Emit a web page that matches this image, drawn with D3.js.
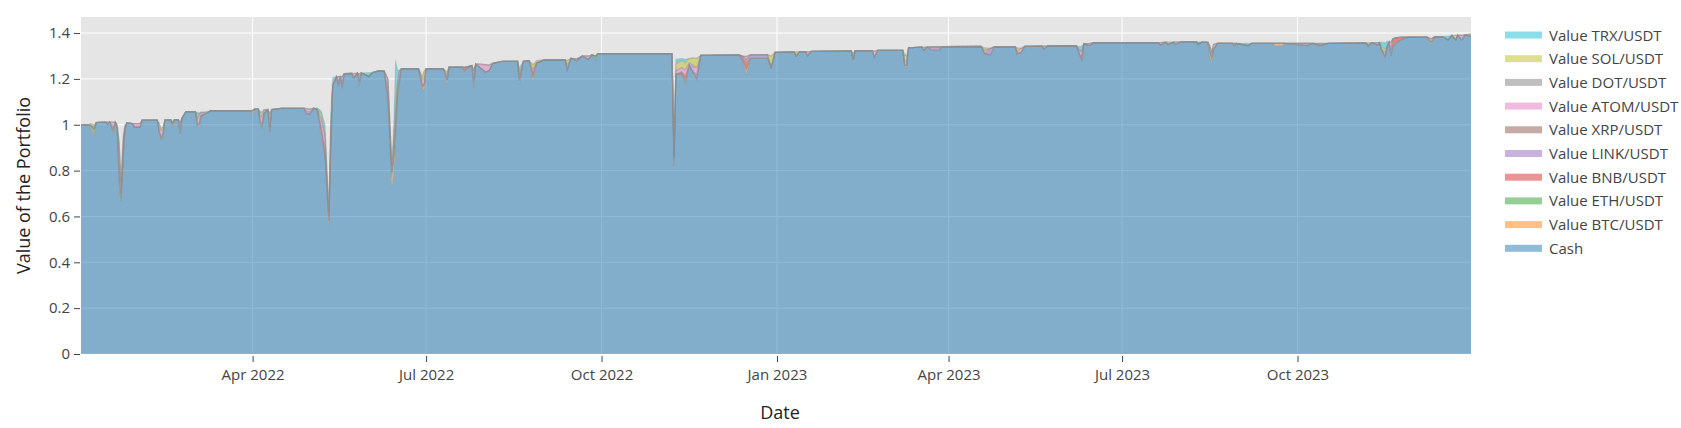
<!DOCTYPE html>
<html><head><meta charset="utf-8">
<script src="https://cdn.jsdelivr.net/npm/d3@7"></script>
<style>body{margin:0;background:#fff}text{font-family:"Open Sans",sans-serif}</style>
</head><body><svg id="c" width="1681" height="428"></svg>
<script>
const dates = ["2022-01-01","2022-01-05","2022-01-06","2022-01-08","2022-01-09","2022-01-14","2022-01-15","2022-01-16","2022-01-17","2022-01-18","2022-01-19","2022-01-20","2022-01-21","2022-01-22","2022-01-23","2022-01-24","2022-01-25","2022-01-28","2022-01-29","2022-02-01","2022-02-02","2022-02-10","2022-02-11","2022-02-12","2022-02-13","2022-02-14","2022-02-17","2022-02-18","2022-02-19","2022-02-21","2022-02-22","2022-02-23","2022-02-25","2022-03-02","2022-03-03","2022-03-04","2022-03-05","2022-03-08","2022-03-10","2022-03-31","2022-04-01","2022-04-02","2022-04-04","2022-04-05","2022-04-06","2022-04-07","2022-04-09","2022-04-10","2022-04-11","2022-04-16","2022-04-28","2022-04-29","2022-05-01","2022-05-03","2022-05-05","2022-05-07","2022-05-09","2022-05-11","2022-05-12","2022-05-13","2022-05-15","2022-05-16","2022-05-17","2022-05-18","2022-05-19","2022-05-23","2022-05-24","2022-05-26","2022-05-27","2022-05-28","2022-06-01","2022-06-03","2022-06-06","2022-06-09","2022-06-11","2022-06-13","2022-06-14","2022-06-15","2022-06-16","2022-06-17","2022-06-18","2022-06-27","2022-06-29","2022-06-30","2022-07-01","2022-07-10","2022-07-12","2022-07-13","2022-07-20","2022-07-21","2022-07-25","2022-07-26","2022-07-27","2022-08-01","2022-08-03","2022-08-05","2022-08-10","2022-08-18","2022-08-19","2022-08-21","2022-08-24","2022-08-26","2022-08-28","2022-09-01","2022-09-12","2022-09-13","2022-09-15","2022-09-18","2022-09-21","2022-09-24","2022-09-26","2022-09-28","2022-09-29","2022-11-07","2022-11-08","2022-11-09","2022-11-12","2022-11-14","2022-11-16","2022-11-18","2022-11-20","2022-11-22","2022-12-12","2022-12-14","2022-12-16","2022-12-18","2022-12-27","2022-12-29","2022-12-31","2023-01-10","2023-01-11","2023-01-13","2023-01-16","2023-01-17","2023-01-19","2023-02-09","2023-02-10","2023-02-11","2023-02-20","2023-02-21","2023-02-23","2023-03-08","2023-03-09","2023-03-10","2023-03-11","2023-03-18","2023-03-19","2023-03-21","2023-03-23","2023-03-27","2023-03-29","2023-04-18","2023-04-20","2023-04-23","2023-04-25","2023-05-06","2023-05-07","2023-05-09","2023-05-11","2023-05-20","2023-05-21","2023-05-23","2023-06-07","2023-06-09","2023-06-10","2023-06-11","2023-06-14","2023-06-16","2023-07-20","2023-07-21","2023-07-24","2023-07-25","2023-07-28","2023-07-29","2023-08-01","2023-08-09","2023-08-10","2023-08-12","2023-08-15","2023-08-16","2023-08-17","2023-08-18","2023-08-20","2023-08-28","2023-08-29","2023-08-30","2023-09-05","2023-09-07","2023-09-18","2023-09-19","2023-09-23","2023-09-24","2023-10-06","2023-10-09","2023-10-13","2023-10-17","2023-11-06","2023-11-07","2023-11-09","2023-11-12","2023-11-13","2023-11-14","2023-11-16","2023-11-17","2023-11-18","2023-11-19","2023-11-20","2023-11-22","2023-11-25","2023-11-28","2023-12-08","2023-12-10","2023-12-12","2023-12-16","2023-12-19","2023-12-21","2023-12-23","2023-12-24","2023-12-26","2023-12-28","2023-12-31"];

const cash = [1.0,1.0,0.985,0.955,1.01,1.012,1.0,1.012,0.99,0.962,1.012,0.98,0.75,0.665,0.82,0.98,1.008,1.005,0.99,0.99,1.02,1.02,0.97,0.935,0.95,1.02,1.022,0.985,1.022,1.022,0.96,1.03,1.057,1.057,1.0,0.99,1.04,1.045,1.062,1.062,1.05,1.068,1.068,1.0,0.985,1.05,1.066,0.97,1.066,1.072,1.072,1.05,1.045,1.072,1.065,0.95,0.86,0.56,0.9,1.17,1.21,1.165,1.21,1.16,1.223,1.224,1.205,1.225,1.17,1.226,1.21,1.228,1.235,1.235,1.1,0.73,0.78,0.95,1.12,1.18,1.245,1.245,1.15,1.155,1.245,1.245,1.18,1.252,1.252,1.235,1.258,1.16,1.265,1.23,1.235,1.268,1.277,1.277,1.18,1.277,1.28,1.19,1.27,1.283,1.283,1.24,1.29,1.28,1.3,1.285,1.305,1.28,1.31,1.31,0.82,1.22,1.22,1.18,1.26,1.23,1.2,1.303,1.305,1.28,1.22,1.29,1.29,1.25,1.316,1.318,1.3,1.319,1.319,1.3,1.32,1.322,1.275,1.323,1.323,1.295,1.325,1.325,1.26,1.25,1.336,1.339,1.325,1.339,1.325,1.325,1.341,1.342,1.31,1.305,1.34,1.34,1.31,1.315,1.342,1.343,1.33,1.344,1.345,1.3,1.28,1.354,1.345,1.358,1.358,1.348,1.36,1.35,1.36,1.35,1.362,1.362,1.352,1.361,1.36,1.3,1.267,1.33,1.355,1.355,1.345,1.355,1.345,1.355,1.355,1.345,1.345,1.355,1.345,1.355,1.345,1.355,1.357,1.345,1.358,1.348,1.358,1.33,1.296,1.34,1.36,1.3,1.34,1.36,1.372,1.382,1.382,1.35,1.384,1.385,1.37,1.39,1.37,1.391,1.37,1.392,1.385];

// Coin values: [date, value]; any date not listed is 0
const btc = [["2022-01-06",0.005],["2022-01-08",0.01],["2022-01-18",0.01],["2022-01-23",0.015],["2022-02-12",0.005],["2022-02-18",0.01],["2022-03-04",0.01],["2022-03-08",0.005],["2022-04-01",0.012],["2022-05-07",0.015],["2022-05-11",0.02],["2022-06-13",0.04],["2022-06-14",0.05],["2022-06-29",0.01],["2022-06-30",0.02],["2022-07-12",0.015],["2022-08-19",0.01],["2022-08-26",0.015],["2022-12-16",0.02],["2023-02-10",0.01],["2023-03-10",0.01],["2023-08-16",0.015],["2023-08-17",0.013],["2023-09-19",0.01],["2023-09-23",0.01],["2023-12-10",0.01]];
const eth = [["2022-01-06",0.008],["2022-01-08",0.015],["2022-01-21",0.02],["2022-01-22",0.015],["2022-01-23",0.015],["2022-02-13",0.01],["2022-02-18",0.01],["2022-04-05",0.01],["2022-04-06",0.015],["2022-05-12",0.03],["2022-05-27",0.017],["2022-06-13",0.02],["2022-06-14",0.04],["2022-06-15",0.03],["2022-06-16",0.03],["2022-07-26",0.02],["2022-09-28",0.02],["2022-11-08",0.015],["2022-11-14",0.01],["2023-08-16",0.01],["2023-08-17",0.015]];
const bnb = [["2022-01-08",0.005],["2022-01-17",0.005],["2022-01-21",0.04],["2022-01-22",0.02],["2022-02-22",0.02],["2022-05-07",0.02],["2022-05-09",0.03],["2022-05-11",0.02],["2022-05-16",0.02],["2022-06-11",0.03],["2022-06-15",0.03],["2022-06-17",0.02],["2022-06-29",0.015],["2022-07-21",0.015],["2022-07-26",0.02],["2022-08-19",0.01],["2022-08-26",0.02],["2022-11-08",0.02],["2022-11-12",0.01],["2022-11-14",0.02],["2022-12-14",0.02],["2022-12-16",0.03],["2023-06-10",0.025],["2023-11-20",0.035],["2023-11-22",0.02],["2023-11-25",0.01]];
const link = [["2022-01-17",0.005],["2022-01-18",0.01],["2022-01-21",0.02],["2022-02-12",0.01],["2022-02-22",0.01],["2022-03-04",0.01],["2022-04-05",0.01],["2022-04-10",0.02],["2022-04-29",0.01],["2022-05-01",0.01],["2022-05-18",0.02],["2022-06-11",0.03],["2022-11-20",0.02],["2022-12-16",0.015],["2022-12-18",0.015],["2022-12-27",0.016],["2023-03-23",0.015],["2023-03-27",0.015],["2023-04-23",0.028],["2023-10-06",0.01],["2023-11-19",0.03]];
const xrp = [["2022-01-15",0.004],["2022-01-18",0.008]];
const atom = [["2022-01-15",0.008],["2022-01-17",0.012],["2022-01-18",0.02],["2022-01-20",0.01],["2022-01-21",0.06],["2022-01-22",0.03],["2022-01-23",0.04],["2022-01-29",0.015],["2022-02-01",0.015],["2022-02-11",0.02],["2022-02-12",0.025],["2022-02-13",0.02],["2022-02-22",0.02],["2022-03-03",0.02],["2022-03-04",0.025],["2022-03-05",0.01],["2022-04-05",0.02],["2022-04-06",0.03],["2022-04-07",0.015],["2022-04-10",0.03],["2022-04-29",0.01],["2022-05-01",0.013],["2022-05-07",0.04],["2022-05-09",0.05],["2022-05-11",0.02],["2022-05-12",0.04],["2022-05-16",0.025],["2022-05-18",0.03],["2022-05-24",0.018],["2022-05-27",0.02],["2022-06-11",0.04],["2022-06-13",0.03],["2022-06-14",0.05],["2022-06-15",0.05],["2022-06-16",0.03],["2022-06-17",0.035],["2022-06-29",0.02],["2022-06-30",0.03],["2022-07-12",0.02],["2022-07-26",0.03],["2022-08-01",0.032],["2022-08-03",0.025],["2022-08-19",0.015],["2022-08-26",0.017],["2022-09-13",0.02],["2022-09-18",0.008],["2022-09-24",0.015],["2022-11-09",0.015],["2022-11-12",0.02],["2022-11-14",0.03],["2022-11-16",0.01],["2022-11-18",0.02],["2022-11-20",0.03],["2022-12-16",0.013],["2023-01-17",0.018],["2023-02-21",0.025],["2023-03-09",0.015],["2023-03-10",0.02],["2023-03-19",0.013],["2023-04-20",0.015],["2023-05-07",0.01],["2023-05-09",0.018],["2023-05-21",0.013],["2023-06-09",0.02],["2023-06-10",0.02],["2023-06-14",0.01],["2023-07-21",0.01],["2023-07-29",0.01],["2023-08-16",0.02],["2023-08-17",0.025],["2023-08-18",0.02],["2023-08-29",0.01],["2023-11-12",0.01],["2023-11-16",0.02],["2023-11-19",0.03],["2023-12-10",0.015],["2023-12-26",0.02],["2023-12-31",0.01]];
const dot = [["2022-01-20",0.01],["2022-01-21",0.03],["2022-01-22",0.02],["2022-01-23",0.03],["2022-01-24",0.01],["2022-03-03",0.015],["2022-03-04",0.015],["2022-03-05",0.005],["2022-04-06",0.015],["2022-04-10",0.03],["2022-05-09",0.02],["2022-05-12",0.03],["2022-05-27",0.015],["2022-07-26",0.01],["2022-11-08",0.015],["2022-11-18",0.012],["2023-10-13",0.01]];
const sol = [["2022-01-06",0.007],["2022-01-08",0.01],["2022-02-11",0.01],["2022-02-12",0.01],["2022-02-13",0.01],["2022-02-18",0.01],["2022-03-03",0.01],["2022-04-05",0.01],["2022-04-06",0.01],["2022-05-05",0.005],["2022-05-07",0.02],["2022-06-15",0.05],["2022-06-29",0.015],["2022-06-30",0.03],["2022-07-12",0.015],["2022-08-19",0.015],["2022-08-26",0.02],["2022-08-28",0.01],["2022-09-13",0.02],["2022-11-09",0.03],["2022-11-12",0.03],["2022-11-14",0.03],["2022-11-16",0.02],["2022-11-18",0.03],["2022-11-20",0.04],["2022-12-29",0.05],["2023-01-11",0.018],["2023-02-10",0.02],["2023-03-09",0.025],["2023-03-10",0.02],["2023-04-20",0.01],["2023-05-07",0.015],["2023-07-25",0.01],["2023-11-07",0.012],["2023-11-14",0.01],["2023-11-16",0.012],["2023-12-23",0.02]];
const trx = [["2022-01-08",0.005],["2022-01-21",0.01],["2022-01-23",0.03],["2022-01-24",0.01],["2022-02-11",0.01],["2022-03-03",0.01],["2022-03-08",0.008],["2022-04-05",0.01],["2022-05-05",0.004],["2022-05-07",0.015],["2022-05-09",0.04],["2022-05-12",0.05],["2022-05-13",0.035],["2022-06-01",0.018],["2022-06-14",0.08],["2022-06-15",0.17],["2022-06-16",0.06],["2022-08-19",0.02],["2022-11-09",0.02],["2022-11-12",0.01],["2022-11-14",0.015],["2023-02-10",0.01],["2023-03-09",0.01],["2023-06-09",0.02],["2023-06-10",0.02],["2023-08-10",0.01],["2023-09-05",0.01],["2023-11-14",0.02],["2023-11-16",0.03],["2023-11-17",0.025],["2023-12-19",0.017]];

const seriesKeys = ["cash","btc","eth","bnb","link","xrp","atom","dot","sol","trx"];
const seriesNames = ["Cash","Value BTC/USDT","Value ETH/USDT","Value BNB/USDT","Value LINK/USDT","Value XRP/USDT","Value ATOM/USDT","Value DOT/USDT","Value SOL/USDT","Value TRX/USDT"];
const seriesColors = ["#1f77b4","#ff7f0e","#2ca02c","#d62728","#9467bd","#8c564b","#e377c2","#7f7f7f","#bcbd22","#17becf"];
const yTicks = [0,0.2,0.4,0.6,0.8,1,1.2,1.4];
const xTickDates = ["2022-04-01","2022-07-01","2022-10-01","2023-01-01","2023-04-01","2023-07-01","2023-10-01"];
const xTickLabels = ["Apr 2022","Jul 2022","Oct 2022","Jan 2023","Apr 2023","Jul 2023","Oct 2023"];

const parse = d3.utcParse("%Y-%m-%d");
const coinArrays = {btc, eth, bnb, link, xrp, atom, dot, sol, trx};
const rows = dates.map((d, i) => {
  const r = {date: parse(d), cash: cash[i]};
  for (const k in coinArrays) r[k] = 0;
  return r;
});
const idx = new Map(dates.map((d, i) => [d, i]));
for (const k in coinArrays) {
  coinArrays[k].forEach(([d, v]) => { const i = idx.get(d); if (i !== undefined) rows[i][k] = v; });
}

const L = 81, R = 1471, T = 17, B = 354;
const svg = d3.select("#c");
const x = d3.scaleUtc().domain(d3.extent(rows, r => r.date)).range([L, R]);
const y = d3.scaleLinear().domain([0, 1.47]).range([B, T]);

svg.append("rect").attr("x", L).attr("y", T).attr("width", R - L).attr("height", B - T).attr("fill", "#e5e5e5");
svg.append("defs").append("clipPath").attr("id", "clip").append("rect")
  .attr("x", L).attr("y", T).attr("width", R - L).attr("height", B - T);

const grid = svg.append("g");
grid.selectAll("line.gy").data(yTicks).join("line")
  .attr("x1", L).attr("x2", R).attr("y1", d => y(d)).attr("y2", d => y(d))
  .attr("stroke", "#fff").attr("stroke-width", 1);
grid.selectAll("line.gx").data(xTickDates).join("line")
  .attr("x1", d => x(parse(d))).attr("x2", d => x(parse(d))).attr("y1", T).attr("y2", B)
  .attr("stroke", "#fff").attr("stroke-width", 1);

const stacked = d3.stack().keys(seriesKeys)(rows);
const area = d3.area().x(d => x(d.data.date)).y0(d => y(d[0])).y1(d => y(d[1]));
const line = d3.line().x(d => x(d.data.date)).y(d => y(d[1]));
const plot = svg.append("g").attr("clip-path", "url(#clip)");
stacked.forEach((s, i) => {
  plot.append("path").datum(s).attr("d", area).attr("fill", seriesColors[i]).attr("fill-opacity", 0.5);
});
stacked.forEach((s, i) => {
  plot.append("path").datum(s).attr("d", line).attr("fill", "none")
    .attr("stroke", "#8a8a8a").attr("stroke-opacity", 0.25).attr("stroke-width", 1.2);
});

const yAxis = svg.append("g").attr("transform", `translate(${L - 1},0)`)
  .call(d3.axisLeft(y).tickValues(yTicks).tickFormat(d => String(d)).tickSize(6).tickPadding(4));
const xAxis = svg.append("g").attr("transform", `translate(0,${B + 2})`)
  .call(d3.axisBottom(x).tickValues(xTickDates.map(parse)).tickFormat((d, i) => xTickLabels[i]).tickSize(6).tickPadding(7));
[yAxis, xAxis].forEach(a => {
  a.select(".domain").remove();
  a.selectAll(".tick line").attr("stroke", "#444");
  a.selectAll(".tick text").attr("fill", "#444").style("font-size", "15px").style("font-family", '"Open Sans", sans-serif');
});

svg.append("text").attr("transform", `translate(30,${(T + B) / 2}) rotate(-90)`)
  .attr("text-anchor", "middle").attr("fill", "#222").style("font-size", "18px").text("Value of the Portfolio");
svg.append("text").attr("x", 780).attr("y", 419)
  .attr("text-anchor", "middle").attr("fill", "#222").style("font-size", "18px").text("Date");

const legendOrder = d3.range(seriesKeys.length).reverse();
const lg = svg.append("g");
legendOrder.forEach((si, j) => {
  const cy = 35 + j * 23.7;
  lg.append("rect").attr("x", 1505).attr("y", cy - 3.5).attr("width", 37).attr("height", 7)
    .attr("fill", seriesColors[si]).attr("fill-opacity", 0.5);
  lg.append("text").attr("x", 1549).attr("y", cy + 5.5).attr("fill", "#444")
    .style("font-size", "15px").text(seriesNames[si]);
});
</script></body></html>
